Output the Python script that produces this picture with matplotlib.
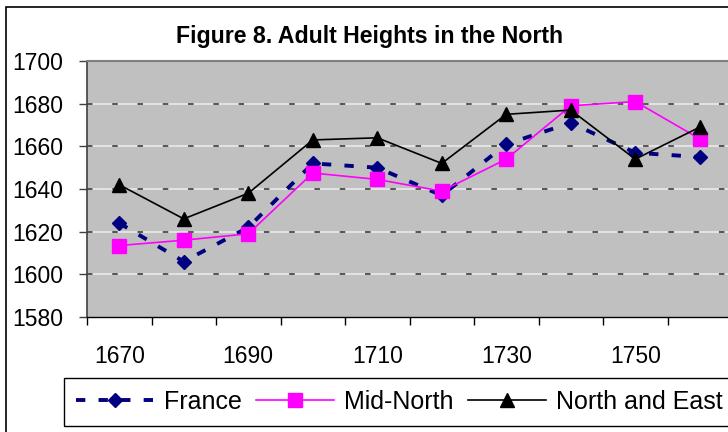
import matplotlib
matplotlib.use("Agg")
import matplotlib.pyplot as plt
from matplotlib.patches import Rectangle

years = [1670, 1680, 1690, 1700, 1710, 1720, 1730, 1740, 1750, 1760]
france = [1624, 1606, 1622, 1652, 1650, 1637, 1661, 1671, 1657, 1655]
mid_north = [1613.5, 1616, 1619, 1647.5, 1644.5, 1639, 1654, 1679, 1681, 1663.5]
north_east = [1642, 1626, 1638, 1663, 1664, 1652, 1675, 1677, 1654, 1669]
y_ticks = [1580, 1600, 1620, 1640, 1660, 1680, 1700]
x_label_years = [1670, 1690, 1710, 1730, 1750]

plt.rcParams['font.family'] = ['Liberation Sans', 'DejaVu Sans']

W, H = 728, 432
fig = plt.figure(figsize=(W / 100, H / 100), dpi=100)
fig.patch.set_facecolor('white')

# outer chart border
fig.patches.append(Rectangle((6 / W, -0.2), 2.0, 1 - 7 / H + 0.2, transform=fig.transFigure,
                             fill=False, edgecolor='black', linewidth=1.2, clip_on=False))

left, right = 87 / W, 732 / W
bottom, top = 1 - 317 / H, 1 - 61 / H
ax = fig.add_axes([left, bottom, right - left, top - bottom])
ax.set_facecolor('#C0C0C0')

idx = list(range(len(years)))
ax.set_xlim(-0.5, len(years) - 0.5)
ax.set_ylim(y_ticks[0], y_ticks[-1])

# gridlines: light line with dark dashes
for v in y_ticks[1:-1]:
    ax.axhline(v, color='#4d4d4d', linewidth=1.3, linestyle=(0, (3.0, 11.0)),
               gapcolor='#E6E6E6', zorder=1)

ax.plot(idx, france, color='#000080', linewidth=2.8, linestyle=(0, (2.4, 3.4)),
        marker='D', markersize=7, markerfacecolor='#000080', markeredgecolor='#000080',
        label='France', zorder=3, dash_capstyle='butt')
ax.plot(idx, mid_north, color='#FF00FF', linewidth=1.2, marker='s', markersize=9.5,
        markerfacecolor='#FF00FF', markeredgecolor='#FF00FF', label='Mid-North', zorder=4)
ax.plot(idx, north_east, color='black', linewidth=1.2, marker='^', markersize=9.5,
        markerfacecolor='black', markeredgecolor='black', label='North and East', zorder=5)

# spines
ax.spines['right'].set_visible(False)
ax.spines['top'].set_color('#808080')
ax.spines['top'].set_linewidth(1.5)
ax.spines['left'].set_color('#404040')
ax.spines['left'].set_linewidth(1.2)
ax.spines['bottom'].set_color('black')
ax.spines['bottom'].set_linewidth(1.0)

# y ticks
ax.set_yticks(y_ticks)
ax.set_yticklabels([str(v) for v in y_ticks])
ax.tick_params(axis='y', direction='out', length=6, width=1, color='#404040',
               labelsize=16.5, pad=11)

# x ticks: marks between categories, labels every other category
boundaries = [i - 0.5 for i in range(len(years) + 1)]
ax.set_xticks(boundaries)
ax.set_xticklabels([''] * len(boundaries))
ax.tick_params(axis='x', which='major', direction='out', length=6, width=1, color='black')
lab_pos = [years.index(y) for y in x_label_years]
ax.set_xticks(lab_pos, minor=True)
ax.set_xticklabels([str(y) for y in x_label_years], minor=True)
ax.tick_params(axis='x', which='minor', length=0, labelsize=16.5, pad=20)

fig.text(370 / W, 1 - 43 / H, 'Figure 8. Adult Heights in the North', ha='center',
         va='baseline', fontsize=16.7, fontweight='bold')

leg = fig.legend(loc='upper left', bbox_to_anchor=(64 / W, 1 - 378 / H), ncol=3,
                 fontsize=18, handlelength=3.1, handletextpad=0.4, columnspacing=0.6,
                 borderpad=0.48, borderaxespad=0, fancybox=False, framealpha=1,
                 edgecolor='black')
leg.get_frame().set_linewidth(1.0)

fig.savefig('out.png', dpi=100)
